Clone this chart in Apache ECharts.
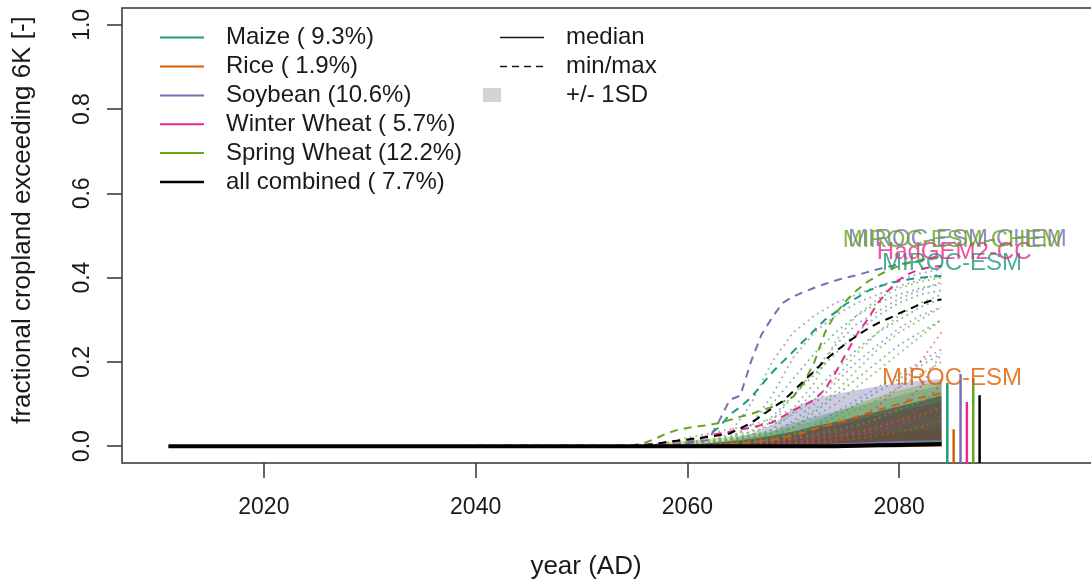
<!DOCTYPE html>
<html>
<head>
<meta charset="utf-8">
<script src="https://cdn.jsdelivr.net/npm/echarts@6/dist/echarts.min.js"></script>
<style>
  html, body { margin: 0; padding: 0; background: #ffffff; }
  #chart { width: 1091px; height: 583px; }
</style>
</head>
<body>
<div id="chart"></div>
<script>
// Crops, their colours and the share of cropland shown in the legend
const crops = ['Maize', 'Rice', 'Soybean', 'Winter Wheat', 'Spring Wheat', 'all combined'];
const cropShares = [' 9.3', ' 1.9', '10.6', ' 5.7', '12.2', ' 7.7'];
const cropColors = ['#1B9E77', '#D95F02', '#7570B3', '#E7298A', '#66A61E', '#000000'];

// Axis ticks
const xTicks = [2020, 2040, 2060, 2080];
const yTicks = [0, 0.2, 0.4, 0.6, 0.8, 1.0];

// Annual years for the ensemble maximum (dashed)
const yearsFine = [2011, 2054, 2055, 2056, 2057, 2058, 2059, 2060, 2061, 2062, 2063, 2064,
  2065, 2066, 2067, 2068, 2069, 2070, 2071, 2072, 2073, 2074, 2075, 2076, 2077, 2078,
  2079, 2080, 2081, 2082, 2083, 2084];

const maxMaize = [0, 0, 0, 0, 0, 0.002, 0.004, 0.008, 0.014, 0.026, 0.045, 0.075, 0.093, 0.115,
  0.145, 0.175, 0.2, 0.225, 0.25, 0.275, 0.3, 0.318, 0.338, 0.352, 0.368, 0.378, 0.386,
  0.392, 0.396, 0.4, 0.402, 0.404];
const maxRice = [0, 0, 0, 0, 0, 0, 0, 0, 0.001, 0.002, 0.003, 0.005, 0.007, 0.009, 0.012, 0.015,
  0.02, 0.025, 0.032, 0.04, 0.047, 0.055, 0.062, 0.07, 0.078, 0.086, 0.093, 0.1, 0.108,
  0.115, 0.12, 0.125];
const maxSoybean = [0, 0, 0, 0, 0, 0.002, 0.004, 0.006, 0.01, 0.015, 0.06, 0.11, 0.12, 0.2, 0.265,
  0.305, 0.34, 0.355, 0.366, 0.376, 0.385, 0.393, 0.4, 0.406, 0.413, 0.42, 0.426, 0.432,
  0.436, 0.44, 0.444, 0.448];
const maxWinterWheat = [0, 0.001, 0.002, 0.004, 0.006, 0.008, 0.011, 0.014, 0.018, 0.024, 0.03,
  0.034, 0.04, 0.044, 0.05, 0.056, 0.07, 0.085, 0.097, 0.11, 0.135, 0.175, 0.22, 0.265,
  0.3, 0.34, 0.37, 0.395, 0.41, 0.42, 0.425, 0.428];
const maxSpringWheat = [0, 0.001, 0.003, 0.008, 0.018, 0.03, 0.038, 0.043, 0.047, 0.05, 0.055,
  0.062, 0.07, 0.076, 0.085, 0.093, 0.105, 0.117, 0.15, 0.2, 0.27, 0.315, 0.345, 0.37,
  0.39, 0.405, 0.418, 0.428, 0.436, 0.442, 0.447, 0.45];
const maxAll = [0, 0, 0.001, 0.002, 0.005, 0.01, 0.013, 0.016, 0.019, 0.022, 0.026, 0.03, 0.042,
  0.055, 0.072, 0.09, 0.107, 0.13, 0.155, 0.178, 0.204, 0.225, 0.244, 0.262, 0.278, 0.292,
  0.303, 0.315, 0.326, 0.337, 0.345, 0.348];

// Two-yearly years for medians, +/- 1SD and the single model runs
const yearsCoarse = [2011, 2054, 2056, 2058, 2060, 2062, 2064, 2066, 2068, 2070, 2072, 2074,
  2076, 2078, 2080, 2082, 2084];

const medMaize = [0, 0, 0, 0, 0, 0, 0, 0, 0, 0, 0.001, 0.002, 0.003, 0.004, 0.006, 0.008, 0.01];
const medRice = [0, 0, 0, 0, 0, 0, 0, 0, 0, 0, 0, 0, 0, 0, 0, 0.001, 0.002];
const medSoybean = [0, 0, 0, 0, 0, 0, 0, 0, 0, 0.001, 0.002, 0.004, 0.006, 0.008, 0.01, 0.011, 0.012];
const medWinterWheat = [0, 0, 0, 0, 0, 0, 0, 0, 0, 0, 0, 0, 0, 0.001, 0.002, 0.003, 0.004];
const medSpringWheat = [0, 0, 0, 0, 0, 0, 0, 0, 0, 0, 0, 0.001, 0.002, 0.003, 0.005, 0.007, 0.009];
const medAll = [0, 0, 0, 0, 0, 0, 0, 0, 0, 0, 0, 0, 0.001, 0.002, 0.003, 0.004, 0.005];

const sdMaize = [0, 0, 0, 0.001, 0.003, 0.006, 0.012, 0.022, 0.035, 0.055, 0.07, 0.083, 0.095,
  0.108, 0.12, 0.133, 0.145];
const sdRice = [0, 0, 0, 0, 0.001, 0.002, 0.004, 0.007, 0.01, 0.014, 0.018, 0.022, 0.026, 0.03,
  0.034, 0.038, 0.042];
const sdSoybean = [0, 0, 0, 0.001, 0.003, 0.006, 0.015, 0.03, 0.05, 0.09, 0.113, 0.123, 0.133,
  0.142, 0.15, 0.155, 0.16];
const sdWinterWheat = [0, 0, 0, 0.002, 0.004, 0.007, 0.01, 0.014, 0.02, 0.028, 0.04, 0.05, 0.062,
  0.073, 0.084, 0.095, 0.105];
const sdSpringWheat = [0, 0.001, 0.003, 0.008, 0.013, 0.017, 0.022, 0.028, 0.036, 0.046, 0.06,
  0.08, 0.1, 0.117, 0.132, 0.145, 0.155];
const sdAll = [0, 0, 0, 0.002, 0.004, 0.007, 0.011, 0.017, 0.025, 0.035, 0.047, 0.058, 0.07,
  0.082, 0.095, 0.107, 0.12];

// Single model runs (dotted)
const runsMaize = [
  [0, 0, 0, 0, 0.002, 0.006, 0.02, 0.05, 0.1, 0.16, 0.22, 0.27, 0.31, 0.34, 0.36, 0.375, 0.385],
  [0, 0, 0, 0, 0.001, 0.004, 0.012, 0.035, 0.07, 0.12, 0.17, 0.22, 0.27, 0.31, 0.34, 0.36, 0.37],
  [0, 0, 0, 0, 0, 0.002, 0.006, 0.018, 0.04, 0.08, 0.13, 0.18, 0.23, 0.27, 0.3, 0.33, 0.35],
  [0, 0, 0, 0, 0, 0.001, 0.003, 0.01, 0.022, 0.045, 0.08, 0.12, 0.16, 0.2, 0.24, 0.27, 0.3],
  [0, 0, 0, 0, 0, 0, 0.002, 0.005, 0.012, 0.025, 0.045, 0.07, 0.1, 0.13, 0.16, 0.19, 0.22]
];
const runsRice = [
  [0, 0, 0, 0, 0, 0, 0.001, 0.003, 0.006, 0.01, 0.016, 0.024, 0.034, 0.046, 0.06, 0.075, 0.09],
  [0, 0, 0, 0, 0, 0, 0, 0.001, 0.003, 0.005, 0.008, 0.012, 0.018, 0.025, 0.034, 0.045, 0.06]
];
const runsSoybean = [
  [0, 0, 0, 0, 0.002, 0.006, 0.03, 0.1, 0.2, 0.27, 0.31, 0.34, 0.36, 0.38, 0.395, 0.41, 0.42],
  [0, 0, 0, 0, 0.001, 0.004, 0.015, 0.05, 0.12, 0.21, 0.27, 0.31, 0.34, 0.36, 0.38, 0.395, 0.41],
  [0, 0, 0, 0, 0, 0.002, 0.008, 0.025, 0.06, 0.12, 0.18, 0.24, 0.29, 0.32, 0.35, 0.37, 0.39],
  [0, 0, 0, 0, 0, 0.001, 0.004, 0.012, 0.03, 0.06, 0.1, 0.15, 0.2, 0.24, 0.28, 0.31, 0.33],
  [0, 0, 0, 0, 0, 0, 0.002, 0.006, 0.015, 0.03, 0.05, 0.08, 0.11, 0.14, 0.17, 0.2, 0.23]
];
const runsWinterWheat = [
  [0, 0, 0, 0.001, 0.002, 0.004, 0.007, 0.01, 0.015, 0.022, 0.03, 0.045, 0.065, 0.095, 0.14, 0.2, 0.27],
  [0, 0, 0, 0, 0.001, 0.002, 0.004, 0.006, 0.01, 0.015, 0.022, 0.032, 0.045, 0.065, 0.09, 0.14, 0.22],
  [0, 0, 0, 0, 0, 0.001, 0.002, 0.004, 0.006, 0.009, 0.014, 0.02, 0.03, 0.042, 0.06, 0.09, 0.15],
  [0, 0, 0, 0, 0, 0, 0.001, 0.002, 0.004, 0.006, 0.01, 0.016, 0.025, 0.036, 0.05, 0.07, 0.1]
];
const runsSpringWheat = [
  [0, 0, 0.002, 0.008, 0.02, 0.03, 0.04, 0.05, 0.065, 0.09, 0.15, 0.25, 0.31, 0.35, 0.375, 0.39, 0.4],
  [0, 0, 0.001, 0.004, 0.01, 0.016, 0.024, 0.034, 0.05, 0.075, 0.11, 0.16, 0.22, 0.27, 0.31, 0.34, 0.36],
  [0, 0, 0, 0.002, 0.005, 0.009, 0.014, 0.02, 0.03, 0.045, 0.07, 0.1, 0.14, 0.18, 0.22, 0.26, 0.3],
  [0, 0, 0, 0.001, 0.003, 0.005, 0.008, 0.012, 0.018, 0.028, 0.042, 0.06, 0.085, 0.11, 0.14, 0.17, 0.2],
  [0, 0, 0, 0, 0.001, 0.003, 0.005, 0.008, 0.012, 0.018, 0.026, 0.038, 0.05, 0.066, 0.085, 0.105, 0.13],
  [0, 0, 0.001, 0.003, 0.007, 0.012, 0.018, 0.026, 0.038, 0.055, 0.085, 0.13, 0.18, 0.23, 0.27, 0.3, 0.33]
];

// End-of-period bars right of the data
const endBarYears = [2084.55, 2085.15, 2085.8, 2086.4, 2087.0, 2087.6];
const endBarValues = [0.15, 0.04, 0.171, 0.105, 0.161, 0.121];

// Model giving the ensemble maximum, written at the end of each maximum curve
const maxModels = ['MIROC-ESM', 'MIROC-ESM', 'MIROC-ESM-CHEM', 'HadGEM2-CC', 'MIROC-ESM-CHEM'];
const maxModelYears = [2085, 2085, 2085.5, 2085.2, 2085];
const maxModelValues = [0.434, 0.161, 0.491, 0.461, 0.489];

const maxSets = [maxMaize, maxRice, maxSoybean, maxWinterWheat, maxSpringWheat, maxAll];
const medSets = [medMaize, medRice, medSoybean, medWinterWheat, medSpringWheat, medAll];
const sdSets = [sdMaize, sdRice, sdSoybean, sdWinterWheat, sdSpringWheat, sdAll];
const runSets = [runsMaize, runsRice, runsSoybean, runsWinterWheat, runsSpringWheat, []];

const Y_MIN = -0.04, Y_MAX = 1.04;
const FONT = '"Liberation Sans", Arial, Helvetica, sans-serif';

const pair = (xs, ys) => xs.map((x, i) => [x, ys[i]]);

const series = [];

// +/- 1SD bands
sdSets.forEach((vals, i) => {
  series.push({
    type: 'line', name: crops[i] + ' sd', data: pair(yearsCoarse, vals),
    showSymbol: false, silent: true, z: 1,
    lineStyle: { width: 0 },
    areaStyle: { color: cropColors[i], opacity: 0.37, origin: 0 }
  });
});

// single runs, dotted
runSets.forEach((runs, i) => {
  runs.forEach(vals => {
    series.push({
      type: 'line', data: pair(yearsCoarse, vals), showSymbol: false, silent: true, z: 2,
      lineStyle: { color: cropColors[i], width: 1.8, type: [1.8, 4], opacity: 0.65 }
    });
  });
});

// ensemble maximum, dashed
maxSets.forEach((vals, i) => {
  series.push({
    type: 'line', data: pair(yearsFine, vals), showSymbol: false, silent: true, z: 3,
    lineStyle: { color: cropColors[i], width: 2, type: [8, 6] }
  });
});

// medians, solid
medSets.forEach((vals, i) => {
  series.push({
    type: 'line', data: pair(yearsCoarse, vals), showSymbol: false, silent: true, z: 4,
    lineStyle: { color: cropColors[i], width: i === 5 ? 4 : 2 }
  });
});

// end-of-period bars
endBarYears.forEach((yr, i) => {
  series.push({
    type: 'line', data: [[yr, Y_MIN], [yr, endBarValues[i]]], showSymbol: false, silent: true, z: 5,
    lineStyle: { color: cropColors[i], width: 2.5, cap: 'butt' }
  });
});

// model names at the maximum curves
maxModels.forEach((name, i) => {
  series.push({
    type: 'scatter', data: [[maxModelYears[i], maxModelValues[i], name]],
    symbolSize: 0.1, itemStyle: { color: 'transparent' }, silent: true, z: 6,
    label: {
      show: true, position: 'inside', formatter: p => p.data[2],
      color: cropColors[i], fontSize: 24, fontFamily: FONT
    }
  });
});

// legend drawn as graphics
const graphics = [];
const rowY = [37.5, 66.5, 95.5, 124.3, 153, 182];
crops.forEach((c, i) => {
  graphics.push({
    type: 'line', shape: { x1: 160, y1: rowY[i], x2: 204, y2: rowY[i] },
    style: { stroke: cropColors[i], lineWidth: i === 5 ? 2.5 : 2 }
  });
  graphics.push({
    type: 'text', x: 226, y: rowY[i],
    style: { text: c + ' (' + cropShares[i] + '%)', fill: '#1a1a1a', font: '24px ' + FONT,
      textAlign: 'left', textVerticalAlign: 'middle' }
  });
});
graphics.push({ type: 'line', shape: { x1: 500, y1: 37.5, x2: 544, y2: 37.5 },
  style: { stroke: '#1a1a1a', lineWidth: 1.5 } });
graphics.push({ type: 'line', shape: { x1: 500, y1: 66.5, x2: 544, y2: 66.5 },
  style: { stroke: '#1a1a1a', lineWidth: 1.5, lineDash: [7, 5] } });
graphics.push({ type: 'rect', shape: { x: 483, y: 88, width: 18, height: 14 },
  style: { fill: '#d3d3d3' } });
['median', 'min/max', '+/- 1SD'].forEach((t, i) => {
  graphics.push({
    type: 'text', x: 566, y: rowY[i],
    style: { text: t, fill: '#1a1a1a', font: '24px ' + FONT, textAlign: 'left', textVerticalAlign: 'middle' }
  });
});
// axis titles
graphics.push({
  type: 'text', x: 586, y: 567,
  style: { text: 'year (AD)', fill: '#1a1a1a', font: '26px ' + FONT, textAlign: 'center', textVerticalAlign: 'middle' }
});
graphics.push({
  type: 'text', x: 23, y: 220, rotation: Math.PI / 2,
  style: { text: 'fractional cropland exceeding 6K [-]', fill: '#1a1a1a', font: '26px ' + FONT,
    textAlign: 'center', textVerticalAlign: 'middle' }
});

const chart = echarts.init(document.getElementById('chart'), null, { renderer: 'canvas' });
chart.setOption({
  animation: false,
  backgroundColor: '#ffffff',
  grid: {
    left: 122, top: 8, height: 455, width: 1027,
    outerBoundsMode: 'none', containLabel: false,
    show: true, borderColor: '#333333', borderWidth: 1.5, backgroundColor: 'transparent'
  },
  xAxis: {
    type: 'value', min: 2006.6, max: 2103.6,
    axisLine: { show: false, onZero: false },
    splitLine: { show: false },
    axisTick: { show: true, inside: false, length: 15, lineStyle: { color: '#333333', width: 1.5 }, customValues: xTicks },
    axisLabel: { customValues: xTicks, margin: 33, fontSize: 23, color: '#1a1a1a', fontFamily: FONT,
      formatter: v => String(v) }
  },
  yAxis: {
    type: 'value', min: Y_MIN, max: Y_MAX,
    axisLine: { show: false, onZero: false },
    splitLine: { show: false },
    axisTick: { show: true, inside: false, length: 15, lineStyle: { color: '#333333', width: 1.5 }, customValues: yTicks },
    axisLabel: { customValues: yTicks, rotate: 90, margin: 28, fontSize: 23, color: '#1a1a1a',
      fontFamily: FONT, formatter: v => v.toFixed(1) }
  },
  graphic: graphics,
  series: series
});
</script>
</body>
</html>
